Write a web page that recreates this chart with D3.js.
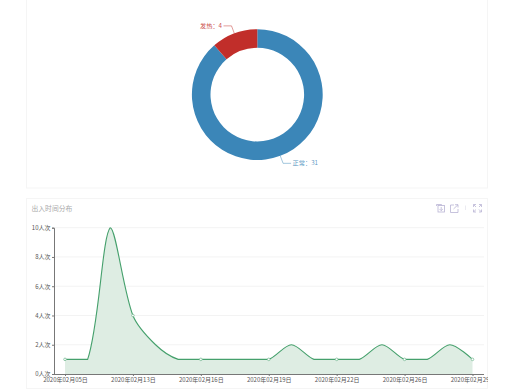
<!DOCTYPE html>
<html><head><meta charset="utf-8">
<script src="https://cdn.jsdelivr.net/npm/d3@7/dist/d3.min.js"></script>
<style>html,body{margin:0;padding:0;background:#fff;overflow:hidden}svg{display:block}text{font-family:"Noto Sans CJK SC","Noto Sans",sans-serif}</style>
</head><body><svg id="c" width="521" height="390"></svg>
<script>
const pieNames=["正常","发热"];
const pieValues=[31,4];
const pieColors=["#3b86b8","#c12e2a"];
const dates=["2020年02月05日","2020年02月07日","2020年02月10日","2020年02月13日","2020年02月14日","2020年02月15日","2020年02月16日","2020年02月17日","2020年02月18日","2020年02月19日","2020年02月20日","2020年02月21日","2020年02月22日","2020年02月24日","2020年02月25日","2020年02月26日","2020年02月27日","2020年02月28日","2020年02月29日"];
const counts=[1,1,10,4,2,1,1,1,1,1,2,1,1,1,2,1,1,2,1];
const yTicks=[0,2,4,6,8,10];
const title="出入时间分布";

// d3 curve factory: chord-length weighted smoothing, control points kept inside the data's bounding box
function smoothClamped(context){return new SC(context)}
class SC{
  constructor(c){this.c=c;this.k=.3}
  areaStart(){this._line=0}
  areaEnd(){this._line=NaN}
  lineStart(){this.p=[]}
  point(x,y){this.p.push([+x,+y])}
  lineEnd(){
    const P=this.p,n=P.length,c=this.c,k=this.k;
    const xs=d3.extent(P,d=>d[0]),ys=d3.extent(P,d=>d[1]);
    const cl=(q)=>[Math.max(xs[0],Math.min(xs[1],q[0])),Math.max(ys[0],Math.min(ys[1],q[1]))];
    const before=[],after=[];
    P.forEach((p,i)=>{
      if(i===0||i===n-1){before[i]=p;after[i]=p;return;}
      const a=P[i-1],b=P[i+1];
      const vx=(b[0]-a[0])*k,vy=(b[1]-a[1])*k;
      const d0=Math.hypot(p[0]-a[0],p[1]-a[1]),d1=Math.hypot(b[0]-p[0],b[1]-p[1]),s=d0+d1;
      before[i]=cl([p[0]-vx*d0/s,p[1]-vy*d0/s]);
      after[i]=cl([p[0]+vx*d1/s,p[1]+vy*d1/s]);
    });
    if(this._line)c.lineTo(P[0][0],P[0][1]);else c.moveTo(P[0][0],P[0][1]);
    for(let i=1;i<n;i++)c.bezierCurveTo(after[i-1][0],after[i-1][1],before[i][0],before[i][1],P[i][0],P[i][1]);
    if(this._line||(this._line!==0&&n===1))c.closePath();
    this._line=1-this._line;
  }
}

const svg=d3.select("#c");
const border="#f5f5f5";
// cards
svg.append("rect").attr("x",26.5).attr("y",-10).attr("width",461).attr("height",198).attr("fill","#fff").attr("stroke",border);
svg.append("rect").attr("x",26.5).attr("y",198.5).attr("width",461).attr("height",190).attr("fill","#fff").attr("stroke",border);

// donut
const cx=257.3,cy=94.6,R=65.4,r=46.8;
const pie=d3.pie().sort(null)(pieValues);
const arc=d3.arc().innerRadius(r).outerRadius(R);
const g=svg.append("g").attr("transform",`translate(${cx},${cy})`);
g.selectAll("path.s").data(pie).join("path").attr("class","s").attr("d",arc).attr("fill",(d,i)=>pieColors[i]);
pie.forEach((d,i)=>{
  const a=(d.startAngle+d.endAngle)/2,s=Math.sin(a),c=Math.cos(a),dir=s>=0?1:-1;
  const p0=[s*R,-c*R],p1=[s*(R+8),-c*(R+8)],p2=[p1[0]+dir*8,p1[1]];
  g.append("path").attr("d",d3.line()([p0,p1,p2])).attr("fill","none").attr("stroke",pieColors[i]).attr("stroke-width",.6).attr("stroke-opacity",.8);
  g.append("text").attr("x",p2[0]+dir*1.5).attr("y",p2[1]-.5).attr("dy","0.35em").attr("text-anchor",dir>0?"start":"end")
   .attr("font-size",6.2).attr("fill",pieColors[i]).attr("fill-opacity",.85).text(pieNames[i]+"："+d.data);
});

// line chart
const x=d3.scalePoint().domain(dates).range([65,472.5]);
const y=d3.scaleLinear().domain([0,10]).range([374,227.7]);
svg.append("clipPath").attr("id","card").append("rect").attr("x",0).attr("y",-10).attr("width",488).attr("height",30);
svg.append("g").selectAll("line").data(yTicks.slice(1)).join("line")
 .attr("x1",54).attr("x2",484).attr("y1",d=>y(d)).attr("y2",d=>y(d)).attr("stroke","#f3f3f3");
svg.append("path").datum(counts).attr("fill","#deede3")
 .attr("d",d3.area().x((d,i)=>x(dates[i])).y0(y(0)).y1(d=>y(d)).curve(smoothClamped));
svg.append("path").datum(counts).attr("fill","none").attr("stroke","#45a06c").attr("stroke-width",1.1)
 .attr("d",d3.line().x((d,i)=>x(dates[i])).y(d=>y(d)).curve(smoothClamped));
const shown=dates.map((d,i)=>i).filter(i=>i%3===0);
svg.append("g").selectAll("circle").data(shown).join("circle").attr("cx",i=>x(dates[i])).attr("cy",i=>y(counts[i])).attr("r",1.3)
 .attr("fill","#fff").attr("stroke","#6fb48d").attr("stroke-width",.7);

const yAxis=svg.append("g").attr("transform","translate(54,0)").call(d3.axisLeft(y).tickValues(yTicks).tickSize(2).tickPadding(1.5).tickFormat(d=>d+"人次"));
const xAxis=svg.append("g").attr("transform","translate(0,374)").attr("clip-path","url(#card)")
 .call(d3.axisBottom(x.copy()).tickValues(shown.map(i=>dates[i])).tickSize(2).tickPadding(2));
xAxis.select(".domain").remove();
svg.append("line").attr("x1",54).attr("x2",484).attr("y1",374.5).attr("y2",374.5).attr("stroke","#777");
[yAxis,xAxis].forEach(a=>{a.selectAll("text").attr("font-size",6).attr("fill","#555").attr("font-family",'"Noto Sans CJK SC",sans-serif');a.selectAll("line,path").attr("stroke","#777");});

svg.append("text").attr("x",31.5).attr("y",210.5).attr("font-size",6.8).attr("fill","#aaa").text(title);

// toolbox
const ic="#b9b4d4";
const tb=svg.append("g").attr("fill","none").attr("stroke",ic).attr("stroke-width",.8);
tb.append("path").attr("d","M436.5 206V204.5H441.5V205.5");
tb.append("rect").attr("x",438).attr("y",205.5).attr("width",6.5).attr("height",6.5);
tb.append("path").attr("d","M441.2 207V210.5M439.5 209L441.2 210.7L442.9 209");
tb.append("path").attr("d","M454 205H450.5V212.5H458V209M453.5 209L458 204.7M455 204.7H458V207.5");
tb.append("path").attr("d","M465.5 205.5V210").attr("stroke","#e6e6ee");
tb.append("path").attr("d","M473.5 207V204.5H476M479 204.5H481.5V207M481.5 209.5V212H479M476 212H473.5V209.5M473.7 204.7L476 207M481.3 204.7L479 207M481.3 211.8L479 209.5M473.7 211.8L476 209.5");
</script></body></html>
